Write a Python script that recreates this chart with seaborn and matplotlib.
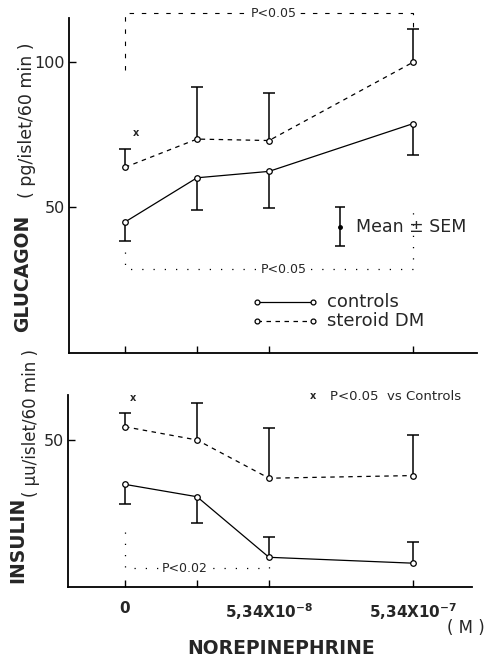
import numpy as np
import pandas as pd
import matplotlib
matplotlib.use("Agg")
import matplotlib.pyplot as plt
import seaborn as sns

# ---- data -------------------------------------------------------------
dose_pos = [0, 1, 2, 4]                       # plotting position of each dose
dose_labels = ["0", "", "5,34X10$^{-8}$", "5,34X10$^{-7}$"]

glucagon_ctrl = [45.0, 60.2, 62.4, 78.8]
glucagon_ctrl_sem = [6.5, 11.2, 12.5, 10.6]
glucagon_ctrl_dir = [-1, -1, -1, -1]
glucagon_dm = [63.8, 73.5, 73.0, 99.9]
glucagon_dm_sem = [6.4, 17.8, 16.3, 11.4]
glucagon_dm_dir = [1, 1, 1, 1]

insulin_ctrl = [34.9, 30.7, 10.1, 8.1]
insulin_ctrl_sem = [6.8, 9.0, 6.8, 7.1]
insulin_ctrl_dir = [-1, -1, 1, 1]
insulin_dm = [54.5, 50.0, 37.0, 37.9]
insulin_dm_sem = [4.6, 12.5, 17.0, 13.8]
insulin_dm_dir = [1, 1, 1, 1]

group_labels = ["controls", "steroid DM"]

# ---- style ------------------------------------------------------------
sns.set_theme(style="white")
plt.rcParams["font.family"] = ["DejaVu Sans"]
plt.rcParams["mathtext.default"] = "regular"

W, H = 498, 667
fig = plt.figure(figsize=(W / 100, H / 100), dpi=100)

X0_PX, UNIT_PX = 125, 72.0


def add_axes_px(left, right, top, bottom):
    ax = fig.add_axes([left / W, 1 - bottom / H, (right - left) / W, (bottom - top) / H])
    ax.set_xlim((left - X0_PX) / UNIT_PX, (right - X0_PX) / UNIT_PX)
    return ax


ax1 = add_axes_px(69, 477, 18, 353)
ax2 = add_axes_px(68, 472, 395, 587)
ax1.set_ylim(0, 115.1)
ax2.set_ylim(0, 65.3)

DASH = (0, (3.6, 3.6))


def draw_series(ax, means, sems, dirs, ls):
    df = pd.DataFrame({"dose": dose_pos, "value": means})
    # one-sided SEM whiskers
    ends = [m + d * s for m, s, d in zip(means, sems, dirs)]
    ax.vlines(dose_pos, means, ends, color="black", lw=1.1, zorder=2)
    ax.plot(dose_pos, ends, ls="none", marker="_", ms=8, mew=1.1, color="black", zorder=2)
    sns.lineplot(data=df, x="dose", y="value", ax=ax, color="black", lw=0.9,
                 linestyle=ls, marker="o", markersize=4, markerfacecolor="white",
                 markeredgecolor="black", markeredgewidth=0.9, errorbar=None, zorder=3)


draw_series(ax1, glucagon_ctrl, glucagon_ctrl_sem, glucagon_ctrl_dir, "-")
draw_series(ax1, glucagon_dm, glucagon_dm_sem, glucagon_dm_dir, DASH)
draw_series(ax2, insulin_ctrl, insulin_ctrl_sem, insulin_ctrl_dir, "-")
draw_series(ax2, insulin_dm, insulin_dm_sem, insulin_dm_dir, DASH)

for ax in (ax1, ax2):
    ax.set_xlabel("")
    ax.set_ylabel("")
    for s in ("top", "right"):
        ax.spines[s].set_visible(False)
    for s in ("left", "bottom"):
        ax.spines[s].set_color("black")
        ax.spines[s].set_linewidth(1.3)
    ax.set_xticks(dose_pos)
    ax.tick_params(axis="both", direction="in", length=5, width=1, color="black",
                   left=True, bottom=True)
    ax.tick_params(axis="y", labelsize=11.5, pad=3)
    ax.grid(False)

ax1.set_yticks([50, 100])
ax1.set_xticklabels([])
ax2.set_yticks([50])
ax2.set_xticklabels(dose_labels, fontsize=11, fontweight="bold")
ax2.tick_params(axis="x", pad=10)

# ---- significance brackets --------------------------------------------
BR_TOP = dict(color="black", lw=0.8, ls=(0, (4, 7)), clip_on=False)
BR_DOT = dict(color="black", lw=0.9, ls=(0, (1, 8)), clip_on=False)

ax1.plot([0, 0, 4, 4], [97.3, 116.8, 116.8, 112.0], **BR_TOP)
ax1.text(2.07, 116.8, "P<0.05", ha="center", va="center", fontsize=9,
         bbox=dict(fc="white", ec="none", pad=1.5), clip_on=False)
ax1.plot([0, 0, 4, 4], [34.6, 28.8, 28.8, 51.7], **BR_DOT)
ax1.text(2.2, 28.8, "P<0.05", ha="center", va="center", fontsize=9,
         bbox=dict(fc="white", ec="none", pad=1.5))
ax1.text(0.15, 75.7, "x", ha="center", va="center", fontsize=7, fontweight="bold")

ax2.plot([0, 0, 2, 2], [18.8, 6.4, 6.4, 8.2], **BR_DOT)
ax2.text(0.83, 6.4, "P<0.02", ha="center", va="center", fontsize=9,
         bbox=dict(fc="white", ec="none", pad=1.5))
ax2.text(0.11, 64.4, "x", ha="center", va="center", fontsize=7, fontweight="bold")
ax2.text(2.61, 65.0, "x", ha="center", va="center", fontsize=7, fontweight="bold")
ax2.text(2.85, 64.8, "P<0.05  vs Controls", ha="left", va="center", fontsize=9.5)

# ---- Mean ± SEM key ----------------------------------------------------
ax1.vlines(2.99, 36.6, 50.0, color="black", lw=1.1)
ax1.plot([2.99, 2.99], [36.6, 50.0], ls="none", marker="_", ms=7, mew=1.1, color="black")
ax1.plot(2.99, 43.2, marker="o", ms=2.5, color="black")
ax1.text(3.21, 43.2, "Mean ± SEM", ha="left", va="center", fontsize=12.5)

# ---- line key ----------------------------------------------------------
for (yk, ls, lab) in [(17.5, "-", group_labels[0]), (11.0, DASH, group_labels[1])]:
    ax1.plot([1.83, 2.61], [yk, yk], color="black", lw=0.9, ls=ls, marker="o", ms=3.5,
             mfc="white", mec="black", mew=0.9)
    ax1.text(2.81, yk, lab, ha="left", va="center", fontsize=13)

# ---- axis titles -------------------------------------------------------
def ftext(xp, yp, s, **kw):
    fig.text(xp / W, 1 - yp / H, s, ha="center", va="center", **kw)


ftext(23, 273, "GLUCAGON", rotation=90, fontsize=13.5, fontweight="bold")
ftext(27, 120, "( pg/islet/60 min )", rotation=90, fontsize=12.5)
ftext(18, 540, "INSULIN", rotation=90, fontsize=13.5, fontweight="bold")
ftext(31, 423, "( μu/islet/60 min )", rotation=90, fontsize=12)
ftext(466, 628, "( M )", fontsize=12)
ftext(281, 649, "NOREPINEPHRINE", fontsize=13.5, fontweight="bold")

fig.savefig("out.png", dpi=100)
